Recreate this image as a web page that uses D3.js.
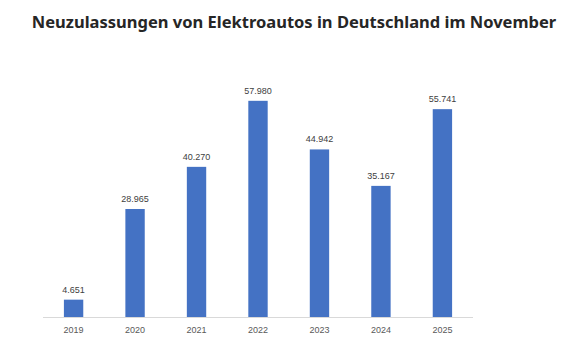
<!DOCTYPE html>
<html>
<head>
<meta charset="utf-8">
<script src="https://cdn.jsdelivr.net/npm/d3@7"></script>
<style>
  body { margin: 0; background: #fff; }
  svg { display: block; }
</style>
</head>
<body>
<svg id="chart" width="573" height="362"></svg>
<script>
const years = ["2019", "2020", "2021", "2022", "2023", "2024", "2025"];
const values = [4651, 28965, 40270, 57980, 44942, 35167, 55741];
const title = "Neuzulassungen von Elektroautos in Deutschland im November";

const svg = d3.select("#chart");
const width = 573, height = 362;
const margin = {top: 56, right: 100, bottom: 45, left: 43};

const fmt = d3.formatLocale({decimal: ",", thousands: ".", grouping: [3], currency: ["", "€"]}).format(",d");

const x = d3.scaleBand()
    .domain(years)
    .range([margin.left, width - margin.right])
    .paddingInner(0.685)
    .paddingOuter(0.34);

const y = d3.scaleLinear()
    .domain([0, 70000])
    .range([height - margin.bottom, margin.top]);

// title
svg.append("text")
    .attr("x", 294)
    .attr("y", 28)
    .attr("text-anchor", "middle")
    .attr("font-family", "'Noto Sans', sans-serif")
    .attr("font-weight", "bold")
    .attr("font-size", "16.5px")
    .attr("fill", "#262626")
    .text(title);

// bars
svg.append("g")
  .selectAll("rect")
  .data(values)
  .join("rect")
    .attr("x", (d, i) => x(years[i]))
    .attr("y", d => y(d))
    .attr("width", x.bandwidth())
    .attr("height", d => y(0) - y(d))
    .attr("fill", "#4472C4");

// value labels
svg.append("g")
  .selectAll("text")
  .data(values)
  .join("text")
    .attr("x", (d, i) => x(years[i]) + x.bandwidth() / 2)
    .attr("y", d => y(d) - 7)
    .attr("text-anchor", "middle")
    .attr("font-family", "'Liberation Sans', Arial, sans-serif")
    .attr("font-size", "9px")
    .attr("fill", "#404040")
    .text(d => fmt(d));

// x axis
const xAxis = svg.append("g")
    .attr("transform", `translate(0,${y(0)})`)
    .call(d3.axisBottom(x).tickSize(0).tickPadding(10));
xAxis.select(".domain").attr("stroke", "#d9d9d9").attr("d", `M${margin.left},0.5H${width - margin.right}`);
xAxis.selectAll("text")
    .attr("font-family", "'Liberation Sans', Arial, sans-serif")
    .attr("font-size", "9px")
    .attr("fill", "#595959");
</script>
</body>
</html>
